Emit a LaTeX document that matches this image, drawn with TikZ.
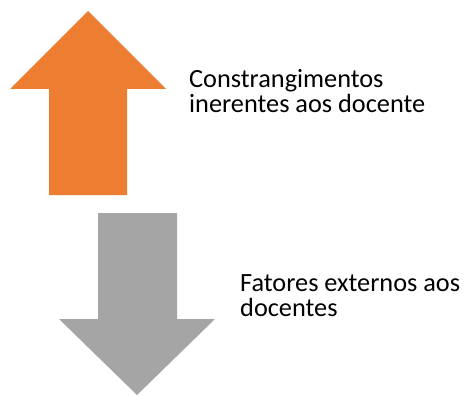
\documentclass[tikz,border=0pt]{standalone}
\usepackage{fontspec}
\setmainfont{Carlito}
\definecolor{arrowOrange}{HTML}{ED7D31}
\definecolor{arrowGray}{HTML}{A5A5A5}

\begin{document}
\begin{tikzpicture}[x=1pt, y=-1pt,
    blockarrow/.style={draw=none},
    label/.style={anchor=base west, align=left, inner sep=0pt,
        font=\fontsize{26.3}{25}\selectfont}]
        \useasboundingbox (0,0) rectangle (466,396);
        % arrow up
        \fill[blockarrow, arrowOrange] (88,11) -- (166,89) -- (127,89) -- (127,195)
            -- (49,195) -- (49,89) -- (10,89) -- cycle;
        % arrow down
        \fill[blockarrow, arrowGray] (98,213) -- (177,213) -- (177,319) -- (215,319)
            -- (137,395) -- (59,319) -- (98,319) -- cycle;
        % labels (anchor on last line)
        \node[label] (inerentes) at (189,113) {Constrangimentos\\inerentes aos docente};
        \node[label] (externos) at (240,316) {Fatores externos aos\\docentes};
    \end{tikzpicture}
\end{document}
